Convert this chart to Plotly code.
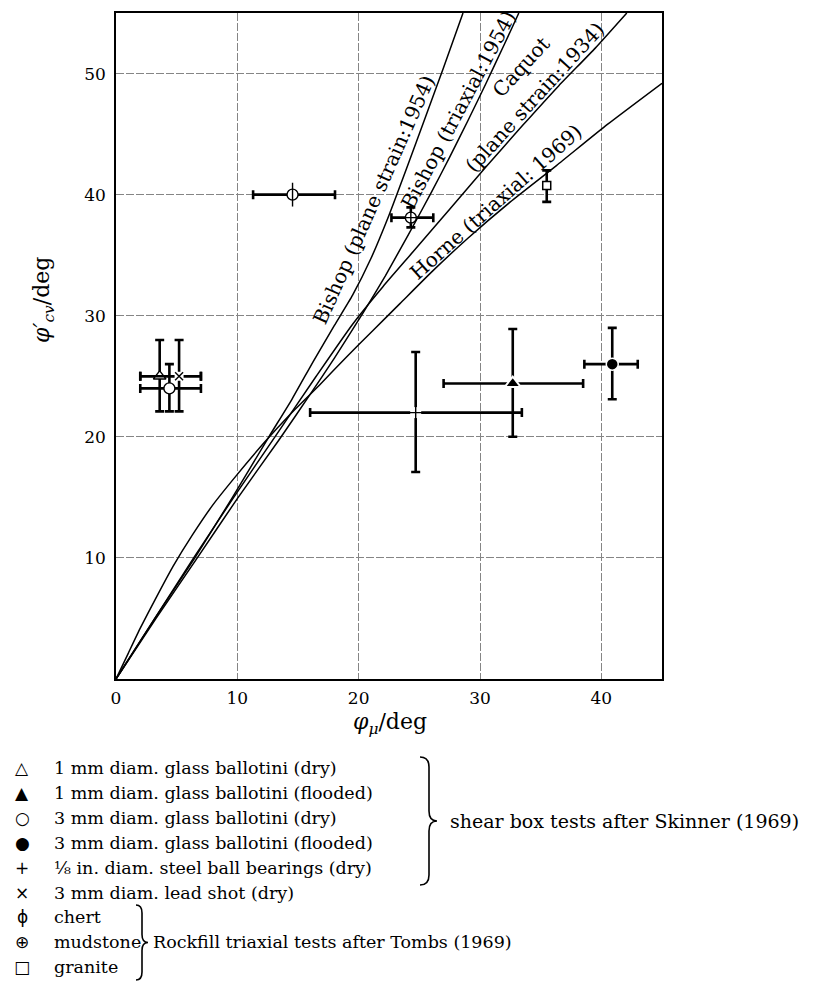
import plotly.graph_objects as go

# ---- theoretical curves: phi_cv' against phi_mu (degrees) ----
bishop_ps_x = [0, 3.2, 6.5, 9.6, 12.6, 14.5, 16.3, 18.0, 19.5, 21.0, 22.5, 24.0, 25.5, 27.0, 28.6]
bishop_ps_y = [0, 5.0, 10.0, 15.0, 20.0, 23.1, 26.3, 29.2, 31.7, 34.7, 38.3, 42.3, 46.4, 50.5, 55.0]

bishop_tri_x = [0, 3.3, 6.7, 10.0, 13.4, 16.0, 18.0, 20.4, 22.2, 24.1, 26.0, 27.5, 29.0, 30.5, 32.0, 33.2]
bishop_tri_y = [0, 5.0, 10.0, 14.9, 19.7, 23.5, 26.5, 30.3, 33.3, 36.7, 40.2, 43.1, 46.1, 49.2, 52.4, 55.0]

caquot_x = [0, 3.2, 6.4, 9.7, 13.1, 16.5, 19.5, 22.0, 24.5, 27.5, 30.5, 33.5, 36.5, 39.5, 42.1]
caquot_y = [0, 5.0, 10.0, 15.0, 20.0, 25.0, 29.3, 32.4, 35.3, 38.8, 42.3, 45.7, 49.0, 52.1, 55.0]

horne_x = [0, 1.0, 2.0, 3.3, 4.7, 6.3, 8.0, 10.0, 12.2, 14.5, 16.8, 19.0, 21.2, 23.4, 26.0, 29.0, 32.5, 36.3, 40.5, 45.0]
horne_y = [0, 2.1, 4.2, 6.7, 9.3, 11.9, 14.4, 16.9, 19.5, 22.0, 24.3, 26.6, 28.8, 31.0, 33.6, 36.4, 39.4, 42.4, 45.8, 49.2]

# ---- test results: centre value and range of each material ----
materials = ["ballotini_1mm_dry", "ballotini_1mm_flooded", "ballotini_3mm_dry",
             "ballotini_3mm_flooded", "steel_bearings", "lead_shot",
             "chert", "mudstone", "granite"]
phi_mu     = [3.6, 32.7, 4.4, 40.9, 24.7, 5.2, 14.55, 24.3, 35.5]
phi_mu_lo  = [2.0, 27.0, 2.0, 38.6, 16.0, 2.0, 11.3, 22.7, None]
phi_mu_hi  = [7.0, 38.5, 7.0, 43.0, 33.45, 7.0, 18.05, 26.15, None]
phi_cv     = [25.0, 24.4, 24.0, 26.0, 22.0, 25.0, 40.0, 38.1, 40.75]
phi_cv_lo  = [22.1, 20.0, 22.1, 23.1, 17.1, 22.1, None, 37.3, 39.4]
phi_cv_hi  = [28.0, 28.9, 26.0, 29.0, 27.0, 28.0, None, 38.95, 42.0]

legend_symbols = ["△", "▲", "○", "●", "+", "×", "ϕ", "⊕", "□"]
legend_texts = ["1 mm diam. glass ballotini (dry)",
                "1 mm diam. glass ballotini (flooded)",
                "3 mm diam. glass ballotini (dry)",
                "3 mm diam. glass ballotini (flooded)",
                "⅛ in. diam. steel ball bearings (dry)",
                "3 mm diam. lead shot (dry)",
                "chert", "mudstone", "granite"]
group_shear = "shear box tests after Skinner (1969)"
group_rock = "Rockfill triaxial tests after Tombs (1969)"

SERIF = "DejaVu Serif"
W, H = 815, 989
L, R, T, B = 116, 153, 13, 310
PW, PH = W - L - R, H - T - B


def pp(xp, yp):
    """pixel position on the page -> paper coordinates"""
    return (xp - L) / PW, (H - B - yp) / PH


fig = go.Figure()

for cx, cy in [(bishop_ps_x, bishop_ps_y), (bishop_tri_x, bishop_tri_y),
               (caquot_x, caquot_y), (horne_x, horne_y)]:
    fig.add_trace(go.Scatter(x=cx, y=cy, mode="lines",
                             line=dict(color="black", width=1.5, shape="spline", smoothing=0.5),
                             hoverinfo="skip", showlegend=False))


def err(i):
    ex = ey = None
    if phi_mu_lo[i] is not None:
        ex = dict(type="data", symmetric=False,
                  array=[phi_mu_hi[i] - phi_mu[i]], arrayminus=[phi_mu[i] - phi_mu_lo[i]],
                  color="black", thickness=2.6, width=4.5)
    if phi_cv_lo[i] is not None:
        ey = dict(type="data", symmetric=False,
                  array=[phi_cv_hi[i] - phi_cv[i]], arrayminus=[phi_cv[i] - phi_cv_lo[i]],
                  color="black", thickness=2.6, width=4.5)
    return ex, ey


marker_styles = [
    dict(symbol="triangle-up", size=11, color="white", line=dict(color="black", width=1.3)),
    dict(symbol="triangle-up", size=14, color="black", line=dict(color="white", width=2)),
    dict(symbol="circle", size=11, color="white", line=dict(color="black", width=1.4)),
    dict(symbol="circle", size=12, color="black", line=dict(color="white", width=1.5)),
    dict(symbol="square", size=11, color="white", line=dict(width=0)),
    dict(symbol="square", size=9, color="white", line=dict(width=0)),
    dict(symbol="circle", size=11, color="white", line=dict(color="black", width=1.4)),
    dict(symbol="circle-cross", size=11, color="white", line=dict(color="black", width=1.4)),
    dict(symbol="square", size=8, color="white", line=dict(color="black", width=1.5)),
]

for i in range(len(materials)):
    ex, ey = err(i)
    fig.add_trace(go.Scatter(x=[phi_mu[i]], y=[phi_cv[i]], mode="markers",
                             marker=marker_styles[i], error_x=ex, error_y=ey,
                             name=materials[i], hoverinfo="x+y", showlegend=False))

# overlay glyphs for the plus, cross and chert symbols
fig.add_trace(go.Scatter(x=[phi_mu[4]], y=[phi_cv[4]], mode="markers",
                         marker=dict(symbol="cross-thin-open", size=10, color="black",
                                     line=dict(color="black", width=1.4)),
                         hoverinfo="skip", showlegend=False))
fig.add_trace(go.Scatter(x=[phi_mu[5]], y=[phi_cv[5]], mode="markers",
                         marker=dict(symbol="x-thin-open", size=8, color="black",
                                     line=dict(color="black", width=1.4)),
                         hoverinfo="skip", showlegend=False))
fig.add_trace(go.Scatter(x=[phi_mu[6]], y=[phi_cv[6]], mode="markers",
                         marker=dict(symbol="line-ns-open", size=17, color="black",
                                     line=dict(color="black", width=1.4)),
                         hoverinfo="skip", showlegend=False))

ann = []
# curve labels
curve_labels = [
    ("Bishop (plane strain:1954)", 21.3, 39.6, -66),
    ("Bishop (triaxial:1954)", 28.2, 47.0, -62),
    ("Caquot", 33.4, 50.5, -47.5),
    ("(plane strain:1934)", 34.5, 48.1, -47.5),
    ("Horne (triaxial: 1969)", 31.3, 39.4, -41.6),
]
for txt, x, y, a in curve_labels:
    ann.append(dict(text=txt, x=x, y=y, xref="x", yref="y", textangle=a, showarrow=False,
                    xanchor="center", yanchor="middle",
                    font=dict(family=SERIF, size=20, color="black")))

# axis titles
xt, yt = pp(390, 723)
ann.append(dict(text="<i>φ</i><sub><i>μ</i></sub>/deg", x=xt, y=yt, xref="paper", yref="paper",
                xanchor="center", yanchor="middle",
                showarrow=False, font=dict(family=SERIF, size=22, color="black")))
xt, yt = pp(43, 300)
ann.append(dict(text="<i>φ′</i><sub><i>cv</i></sub>/deg", x=xt, y=yt, xref="paper", yref="paper",
                xanchor="center", yanchor="middle",
                textangle=-90, showarrow=False, font=dict(family=SERIF, size=22, color="black")))

# key below the chart
row0, dy = 768, 24.9
for i, (s, t) in enumerate(zip(legend_symbols, legend_texts)):
    yrow = row0 + i * dy
    sx, sy = pp(22, yrow)
    ann.append(dict(text=s, x=sx, y=sy, xref="paper", yref="paper", showarrow=False,
                    xanchor="center", yanchor="middle",
                    font=dict(family="DejaVu Sans", size=17, color="black")))
    tx, ty = pp(52, yrow)
    ann.append(dict(text=t, x=tx, y=ty, xref="paper", yref="paper", showarrow=False,
                    xanchor="left", yanchor="middle",
                    font=dict(family=SERIF, size=17.5, color="black")))

gx, gy = pp(448, 821)
ann.append(dict(text=group_shear, x=gx, y=gy, xref="paper", yref="paper", showarrow=False,
                xanchor="left", yanchor="middle", font=dict(family=SERIF, size=19, color="black")))
gx, gy = pp(151, 942)
ann.append(dict(text=group_rock, x=gx, y=gy, xref="paper", yref="paper", showarrow=False,
                xanchor="left", yanchor="middle", font=dict(family=SERIF, size=17.5, color="black")))


def brace(x_left, x_spine, x_tip, y_top, y_bot, r=10):
    ym = (y_top + y_bot) / 2
    pts = [
        ("M", [(x_left, y_top)]),
        ("Q", [(x_spine, y_top), (x_spine, y_top + r)]),
        ("L", [(x_spine, ym - r)]),
        ("Q", [(x_spine, ym), (x_tip, ym)]),
        ("Q", [(x_spine, ym), (x_spine, ym + r)]),
        ("L", [(x_spine, y_bot - r)]),
        ("Q", [(x_spine, y_bot), (x_left, y_bot)]),
    ]
    out = []
    for cmd, plist in pts:
        coords = " ".join("%.5f,%.5f" % pp(a, b) for a, b in plist)
        out.append(cmd + " " + coords)
    return " ".join(out)


shapes = [
    dict(type="path", path=brace(420, 429, 437, 757, 885), xref="paper", yref="paper",
         line=dict(color="black", width=1.6)),
    dict(type="path", path=brace(136, 142, 148, 905, 980, r=8), xref="paper", yref="paper",
         line=dict(color="black", width=1.6)),
]

axis_common = dict(showgrid=True, gridcolor="#858585", gridwidth=1, griddash="8px,2px",
                   zeroline=False, showline=True, mirror=True, linecolor="black", linewidth=1.6,
                   ticks="outside", tickcolor="rgba(0,0,0,0)",
                   tickfont=dict(family=SERIF, size=17, color="black"))

fig.update_layout(
    width=W, height=H,
    margin=dict(l=L, r=R, t=T, b=B),
    paper_bgcolor="white", plot_bgcolor="white",
    xaxis=dict(range=[0, 45], tickvals=[0, 10, 20, 30, 40], ticklen=3, **axis_common),
    yaxis=dict(range=[0, 55], tickvals=[10, 20, 30, 40, 50], ticklen=5, **axis_common),
    annotations=ann, shapes=shapes, showlegend=False,
)

fig.write_html("out.html")
